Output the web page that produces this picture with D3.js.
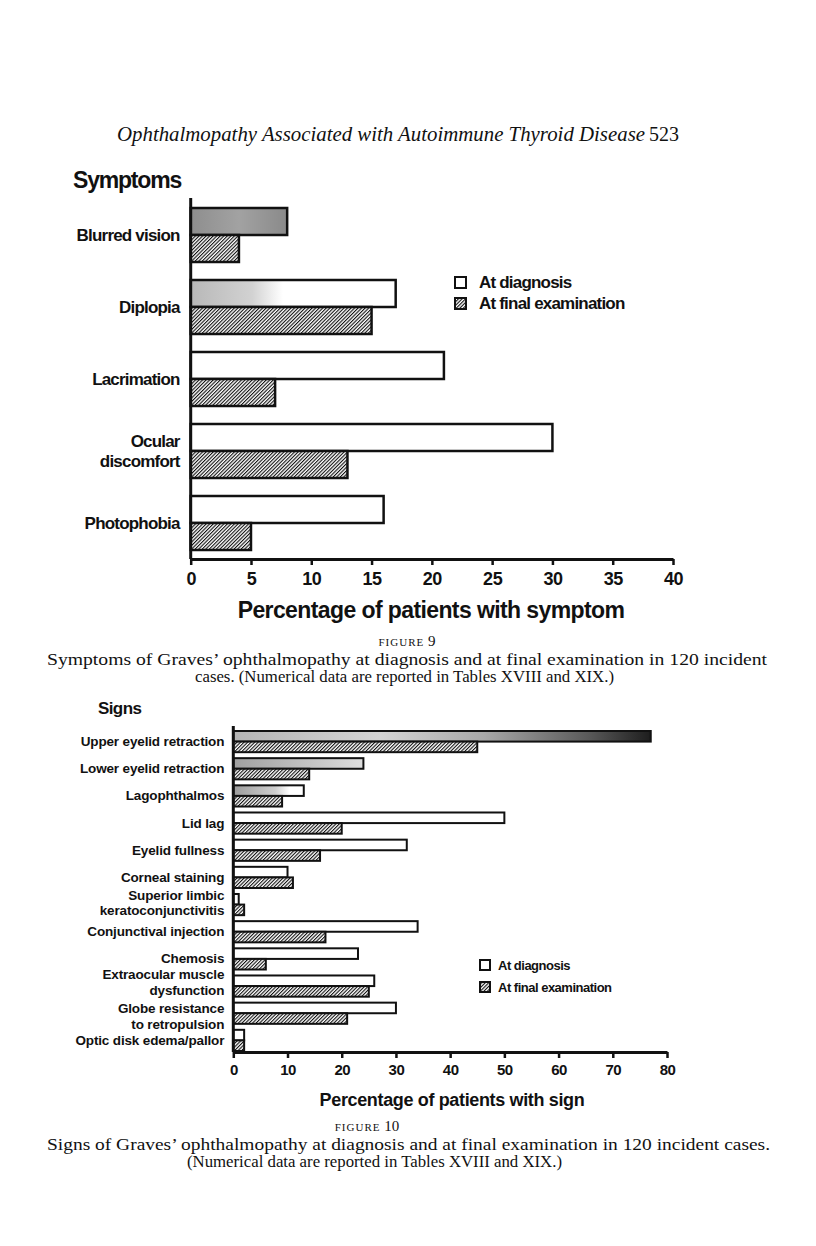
<!DOCTYPE html>
<html>
<head>
<meta charset="utf-8">
<script src="https://cdn.jsdelivr.net/npm/d3@7"></script>
<style>
  body { margin: 0; background: #fff; }
  svg text { font-family: "Liberation Sans", Arial, sans-serif; font-weight: bold; fill: #111; }
  svg text.serif { font-family: "Liberation Serif", "DejaVu Serif", serif; font-weight: normal; }
</style>
</head>
<body>
<svg id="page" width="816" height="1246"></svg>
<script>
// ---- data ----
var symptomNames = ["Blurred vision", "Diplopia", "Lacrimation", "Ocular\ndiscomfort", "Photophobia"];
var symptomDiagnosis = [8, 17, 21, 30, 16];
var symptomFinal = [4, 15, 7, 13, 5];
var symptomTicks = [0, 5, 10, 15, 20, 25, 30, 35, 40];

var signNames = ["Upper eyelid retraction", "Lower eyelid retraction", "Lagophthalmos", "Lid lag",
  "Eyelid fullness", "Corneal staining", "Superior limbic\nkeratoconjunctivitis", "Conjunctival injection",
  "Chemosis", "Extraocular muscle\ndysfunction", "Globe resistance\nto retropulsion", "Optic disk edema/pallor"];
var signDiagnosis = [77, 24, 13, 50, 32, 10, 1, 34, 23, 26, 30, 2];
var signFinal = [45, 14, 9, 20, 16, 11, 2, 17, 6, 25, 21, 2];
var signTicks = [0, 10, 20, 30, 40, 50, 60, 70, 80];

var legendLabels = ["At diagnosis", "At final examination"];

// small vertical nudges of some wrapped labels, as typeset on the page
var labelNudge = {
  "Superior limbic\nkeratoconjunctivitis": -1.5,
  "Extraocular muscle\ndysfunction": -4,
  "Globe resistance\nto retropulsion": 3
};

var svg = d3.select("#page");
var defs = svg.append("defs");

// hatch pattern for the "final examination" bars
defs.append("pattern")
  .attr("id", "hatch")
  .attr("patternUnits", "userSpaceOnUse")
  .attr("width", 2.5).attr("height", 10)
  .attr("patternTransform", "rotate(45)")
  .call(function (p) {
    p.append("rect").attr("width", 2.5).attr("height", 10).attr("fill", "#fff");
    p.append("rect").attr("width", 1.1).attr("height", 10).attr("fill", "#111");
  });

// grey smudges the scan left on a few of the open bars
var smudges = {
  "Blurred vision": [[0, "#8e8e8e"], [0.5, "#a2a2a2"], [1, "#8a8a8a"]],
  "Diplopia": [[0, "#b8b8b8"], [0.3, "#d2d2d2"], [0.45, "#fff"], [1, "#fff"]],
  "Upper eyelid retraction": [[0, "#b4b4b4"], [0.35, "#d4d4d4"], [0.6, "#a8a8a8"], [0.85, "#5a5a5a"], [1, "#1e1e1e"]],
  "Lower eyelid retraction": [[0, "#a0a0a0"], [0.6, "#c4c4c4"], [1, "#dedede"]],
  "Lagophthalmos": [[0, "#9c9c9c"], [0.6, "#cfcfcf"], [0.8, "#fff"], [1, "#fff"]]
};
Object.keys(smudges).forEach(function (k, i) {
  var g = defs.append("linearGradient").attr("id", "smudge" + i);
  smudges[k].forEach(function (s) {
    g.append("stop").attr("offset", s[0]).attr("stop-color", s[1]);
  });
  smudges[k].id = "smudge" + i;
});

// ---- running head ----
svg.append("text").attr("class", "serif")
  .attr("x", 117).attr("y", 141)
  .style("font-style", "italic").style("font-size", "21px")
  .attr("textLength", 528).attr("lengthAdjust", "spacingAndGlyphs")
  .text("Ophthalmopathy Associated with Autoimmune Thyroid Disease");
svg.append("text").attr("class", "serif")
  .attr("x", 679).attr("y", 141).attr("text-anchor", "end")
  .style("font-size", "20px")
  .text("523");

function drawChart(cfg) {
  var g = svg.append("g");

  var x = d3.scaleLinear().domain(cfg.domain).range([cfg.left, cfg.right]);
  var y = d3.scaleBand().domain(cfg.names).range([cfg.barTop, cfg.barBottom]).paddingInner(cfg.pad);
  var half = y.bandwidth() / 2;

  // title
  g.append("text")
    .attr("x", cfg.titleX).attr("y", cfg.titleY)
    .style("font-size", cfg.titleSize + "px").style("letter-spacing", cfg.titleSpacing + "px")
    .text(cfg.title);

  // bars
  var rows = cfg.names.map(function (n, i) {
    return { name: n, diag: cfg.diag[i], fin: cfg.fin[i] };
  });
  var row = g.selectAll(".row").data(rows).enter().append("g")
    .attr("transform", function (d) { return "translate(0," + y(d.name) + ")"; });

  row.append("rect")
    .attr("x", x(0)).attr("y", 0)
    .attr("width", function (d) { return x(d.diag) - x(0); })
    .attr("height", half)
    .attr("fill", function (d) { return smudges[d.name] ? "url(#" + smudges[d.name].id + ")" : "#fff"; })
    .attr("stroke", "#111").attr("stroke-width", cfg.barStroke);

  row.append("rect")
    .attr("x", x(0)).attr("y", half)
    .attr("width", function (d) { return x(d.fin) - x(0); })
    .attr("height", half)
    .attr("fill", "url(#hatch)")
    .attr("stroke", "#111").attr("stroke-width", cfg.barStroke);

  // category labels, split on line breaks
  row.each(function (d) {
    var lines = d.name.split("\n");
    var nudge = labelNudge[d.name] || 0;
    var gap = lines.length > 1 && nudge === -1.5 ? cfg.lineGap - 1 : cfg.lineGap;
    var t = d3.select(this).append("text")
      .attr("text-anchor", "end")
      .attr("x", cfg.left - cfg.labelGap)
      .attr("y", half + cfg.labelShift + nudge - (lines.length - 1) * gap / 2)
      .style("font-size", cfg.labelSize + "px")
      .style("letter-spacing", cfg.labelSpacing + "px");
    lines.forEach(function (l, k) {
      t.append("tspan").attr("x", cfg.left - cfg.labelGap).attr("dy", k ? gap : 0).text(l);
    });
  });

  // axes
  g.append("line")
    .attr("x1", x(0)).attr("x2", x(0))
    .attr("y1", cfg.axisTop).attr("y2", cfg.axisY)
    .attr("stroke", "#111").attr("stroke-width", cfg.axisStroke);

  var xAxis = g.append("g")
    .attr("transform", "translate(0," + cfg.axisY + ")")
    .call(d3.axisBottom(x).tickValues(cfg.ticks).tickSize(6).tickSizeOuter(0).tickPadding(cfg.tickPad));
  xAxis.select(".domain").attr("stroke", "#111").attr("stroke-width", cfg.axisStroke);
  xAxis.selectAll(".tick line").attr("stroke", "#111").attr("stroke-width", 2.5);
  xAxis.selectAll(".tick text")
    .attr("fill", "#111")
    .style("font-family", '"Liberation Sans", Arial, sans-serif')
    .style("font-weight", "bold")
    .style("font-size", cfg.tickSize + "px")
    .style("letter-spacing", "-0.5px");

  g.append("text")
    .attr("x", cfg.xTitleX).attr("y", cfg.xTitleY).attr("text-anchor", "middle")
    .style("font-size", cfg.xTitleSize + "px").style("letter-spacing", cfg.xTitleSpacing + "px")
    .text(cfg.xTitle);

  // legend
  var lg = g.append("g");
  legendLabels.forEach(function (l, i) {
    lg.append("rect")
      .attr("x", cfg.legendX).attr("y", cfg.legendY + i * cfg.legendStep - cfg.legendBox + 1)
      .attr("width", cfg.legendBox).attr("height", cfg.legendBox)
      .attr("fill", i ? "url(#hatch)" : "#fff")
      .attr("stroke", "#111").attr("stroke-width", 2);
    lg.append("text")
      .attr("x", cfg.legendX + cfg.legendText).attr("y", cfg.legendY + i * cfg.legendStep + 1)
      .style("font-size", cfg.legendSize + "px").style("letter-spacing", cfg.legendSpacing + "px")
      .text(l);
  });
}

// ---- Figure 9 ----
drawChart({
  title: "Symptoms", titleX: 73, titleY: 188, titleSize: 23, titleSpacing: -1.2,
  names: symptomNames, diag: symptomDiagnosis, fin: symptomFinal, ticks: symptomTicks,
  domain: [0, 40], left: 190.7, right: 673,
  barTop: 208, barBottom: 550, pad: 0.25, barStroke: 2.5,
  labelGap: 11, labelSize: 17, labelSpacing: -0.8, labelShift: 6, lineGap: 20,
  axisTop: 198, axisY: 559, axisStroke: 3, tickPad: 7, tickSize: 18,
  xTitle: "Percentage of patients with symptom", xTitleX: 431, xTitleY: 618, xTitleSize: 23, xTitleSpacing: -0.6,
  legendX: 455, legendY: 287, legendStep: 21, legendBox: 11, legendText: 24, legendSize: 17, legendSpacing: -0.8
});

svg.append("text").attr("class", "serif")
  .attr("x", 407).attr("y", 646).attr("text-anchor", "middle")
  .style("font-size", "15px")
  .html('<tspan style="font-size:11px;letter-spacing:1px">FIGURE</tspan> 9');
svg.append("text").attr("class", "serif")
  .attr("x", 47).attr("y", 665)
  .style("font-size", "16px")
  .attr("textLength", 720).attr("lengthAdjust", "spacingAndGlyphs")
  .text("Symptoms of Graves\u2019 ophthalmopathy at diagnosis and at final examination in 120 incident");
svg.append("text").attr("class", "serif")
  .attr("x", 195).attr("y", 682)
  .style("font-size", "16px")
  .attr("textLength", 419).attr("lengthAdjust", "spacingAndGlyphs")
  .text("cases. (Numerical data are reported in Tables XVIII and XIX.)");

// ---- Figure 10 ----
drawChart({
  title: "Signs", titleX: 98, titleY: 714, titleSize: 17, titleSpacing: -0.6,
  names: signNames, diag: signDiagnosis, fin: signFinal, ticks: signTicks,
  domain: [0, 80], left: 233.3, right: 667,
  barTop: 731, barBottom: 1051, pad: 0.22, barStroke: 2,
  labelGap: 9, labelSize: 13.5, labelSpacing: -0.15, labelShift: 4.5, lineGap: 16,
  axisTop: 726, axisY: 1052, axisStroke: 3, tickPad: 6, tickSize: 15,
  xTitle: "Percentage of patients with sign", xTitleX: 452, xTitleY: 1106, xTitleSize: 18, xTitleSpacing: -0.35,
  legendX: 480, legendY: 969, legendStep: 22, legendBox: 10, legendText: 18, legendSize: 13, legendSpacing: -0.5
});

svg.append("text").attr("class", "serif")
  .attr("x", 367).attr("y", 1131).attr("text-anchor", "middle")
  .style("font-size", "15px")
  .html('<tspan style="font-size:11px;letter-spacing:1px">FIGURE</tspan> 10');
svg.append("text").attr("class", "serif")
  .attr("x", 47).attr("y", 1150)
  .style("font-size", "16px")
  .attr("textLength", 723).attr("lengthAdjust", "spacingAndGlyphs")
  .text("Signs of Graves\u2019 ophthalmopathy at diagnosis and at final examination in 120 incident cases.");
svg.append("text").attr("class", "serif")
  .attr("x", 187).attr("y", 1167)
  .style("font-size", "16px")
  .attr("textLength", 375).attr("lengthAdjust", "spacingAndGlyphs")
  .text("(Numerical data are reported in Tables XVIII and XIX.)");
</script>
</body>
</html>
